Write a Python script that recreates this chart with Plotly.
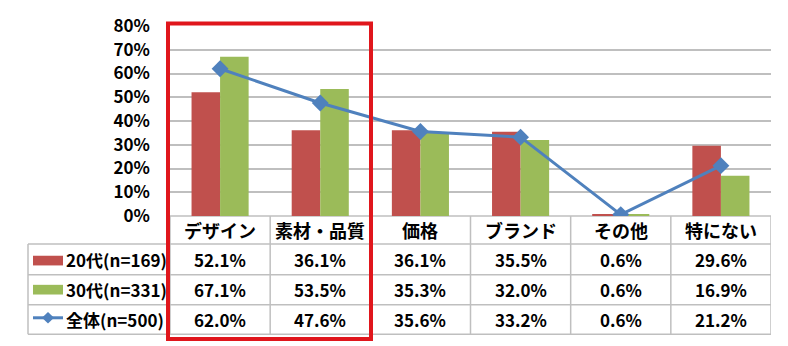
import plotly.graph_objects as go

# --- data -------------------------------------------------------------
categories = ["デザイン", "素材・品質", "価格", "ブランド", "その他", "特にない"]
series_names = ["20代(n=169)", "30代(n=331)", "全体(n=500)"]
age20 = [52.1, 36.1, 36.1, 35.5, 0.6, 29.6]
age30 = [67.1, 53.5, 35.3, 32.0, 0.6, 16.9]
overall = [62.0, 47.6, 35.6, 33.2, 0.6, 21.2]
y_ticks = [0, 10, 20, 30, 40, 50, 60, 70, 80]

# --- styling ----------------------------------------------------------
RED = "#C0504D"
GREEN = "#9BBB59"
BLUE = "#4F81BD"
GRID = "#BFBFBF"
FONT = "Noto Sans CJK JP"

W, H = 788, 346
L, R, T, B = 170, 17, 20, 130
plot_w = W - L - R
plot_h = H - T - B


def px_x(p):
    """pixel x -> paper x"""
    return (p - L) / plot_w


def px_y(p):
    """pixel y -> paper y"""
    return (H - B - p) / plot_h


xs = list(range(len(categories)))

fig = go.Figure()
fig.add_trace(go.Bar(x=xs, y=age20, name=series_names[0], marker_color=RED,
                     marker_line_width=0))
fig.add_trace(go.Bar(x=xs, y=age30, name=series_names[1], marker_color=GREEN,
                     marker_line_width=0))
fig.add_trace(go.Scatter(x=xs, y=overall, name=series_names[2], mode="lines+markers",
                         line=dict(color=BLUE, width=3),
                         marker=dict(symbol="diamond", size=13, color=BLUE)))

shapes = []
annotations = []

# table rows (pixel positions)
header_mid = 230.5
row_lines = [245, 276.5, 307.5, 338]
row_mids = [261, 292, 323]
table_left = 28

line_style = dict(color=GRID, width=1.5)

# horizontal table lines
shapes.append(dict(type="line", xref="paper", yref="paper",
                   x0=0, x1=1, y0=0, y1=0, line=line_style, layer="below"))
for yl in row_lines:
    shapes.append(dict(type="line", xref="paper", yref="paper",
                       x0=px_x(table_left), x1=1, y0=px_y(yl), y1=px_y(yl),
                       line=line_style))
# vertical table lines at category boundaries
for i in range(len(categories) + 1):
    shapes.append(dict(type="line", xref="x", yref="paper",
                       x0=i - 0.5, x1=i - 0.5, y0=0, y1=px_y(row_lines[-1]),
                       line=line_style))
# left border of the series-name column
shapes.append(dict(type="line", xref="paper", yref="paper",
                   x0=px_x(table_left), x1=px_x(table_left),
                   y0=px_y(row_lines[0]), y1=px_y(row_lines[-1]), line=line_style))

cell_font = dict(family=FONT, size=17, color="#000000", weight="bold")

# header: category names
for i, c in enumerate(categories):
    annotations.append(dict(x=i, y=px_y(header_mid), xref="x", yref="paper",
                            text=c, showarrow=False, font=dict(family=FONT, size=18,
                                                               color="#000000", weight="bold"),
                            xanchor="center", yanchor="middle"))

# value cells
for r, vals in enumerate([age20, age30, overall]):
    for i, v in enumerate(vals):
        annotations.append(dict(x=i, y=px_y(row_mids[r]), xref="x", yref="paper",
                                text=f"{v:.1f}%", showarrow=False, font=cell_font,
                                xanchor="center", yanchor="middle"))
    # series name
    annotations.append(dict(x=px_x(64), y=px_y(row_mids[r]), xref="paper", yref="paper",
                            text=series_names[r], showarrow=False, font=cell_font,
                            xanchor="left", yanchor="middle"))

# legend keys
shapes.append(dict(type="rect", xref="paper", yref="paper",
                   x0=px_x(33), x1=px_x(63), y0=px_y(257), y1=px_y(267),
                   fillcolor=RED, line_width=0))
shapes.append(dict(type="rect", xref="paper", yref="paper",
                   x0=px_x(33), x1=px_x(63), y0=px_y(287), y1=px_y(297),
                   fillcolor=GREEN, line_width=0))
shapes.append(dict(type="line", xref="paper", yref="paper",
                   x0=px_x(33), x1=px_x(63), y0=px_y(321), y1=px_y(321),
                   line=dict(color=BLUE, width=3)))
shapes.append(dict(type="path", xref="paper", yref="paper",
                   path=(f"M {px_x(42)} {px_y(321)} L {px_x(48)} {px_y(315)} "
                         f"L {px_x(54)} {px_y(321)} L {px_x(48)} {px_y(327)} Z"),
                   fillcolor=BLUE, line_width=0))

# highlight frame around the first two categories
shapes.append(dict(type="rect", xref="paper", yref="paper",
                   x0=px_x(168), x1=px_x(371), y0=px_y(17.5), y1=px_y(343),
                   line=dict(color="#E0161C", width=4), fillcolor="rgba(0,0,0,0)"))

fig.update_layout(
    width=W, height=H,
    margin=dict(l=L, r=R, t=T, b=B, pad=0),
    paper_bgcolor="white", plot_bgcolor="white",
    barmode="group", bargap=0.43, bargroupgap=0,
    showlegend=False,
    shapes=shapes, annotations=annotations,
    font=dict(family=FONT, color="#000000"),
)
fig.update_xaxes(range=[-0.5, len(categories) - 0.5], showticklabels=False,
                 showgrid=False, zeroline=False, showline=False, fixedrange=True)
fig.update_yaxes(range=[0, 80], tickmode="array", tickvals=y_ticks,
                 ticktext=[f"{v}%" for v in y_ticks],
                 showgrid=True, gridcolor=GRID, gridwidth=1.5,
                 zeroline=False, showline=True, linecolor=GRID, linewidth=1.5,
                 ticks="", ticklabelstandoff=15,
                 tickfont=dict(family=FONT, size=17, color="#000000", weight="bold"),
                 fixedrange=True)

fig.write_html("out.html")
